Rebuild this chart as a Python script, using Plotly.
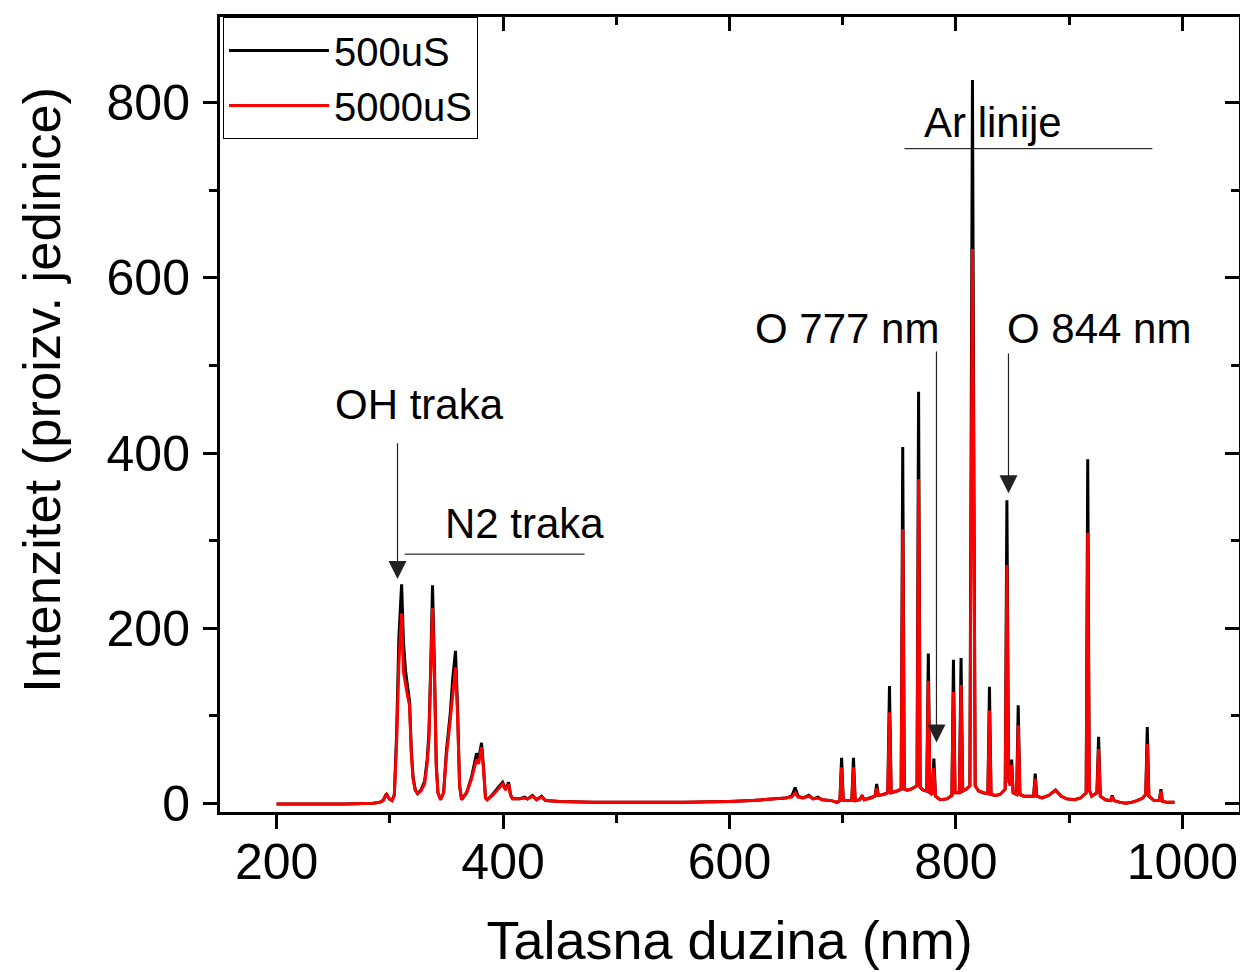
import plotly.graph_objects as go

# Wavelength (nm) and intensities
wavelength = [
    200, 230, 260, 285, 291, 294, 297, 299.5, 302, 304, 306, 308, 310.4, 312, 313.9, 316, 317.4,
    319, 320.5, 322.5, 324.5, 327.5, 330.7, 333, 334.5, 336, 337.7, 339.5, 341, 342.5, 344.8,
    347.5, 350, 352, 353.6, 355.4, 358, 359.8, 361.6, 363.4, 367.8, 372.2, 375.8, 376.6, 378.4,
    381, 382.8, 384.5, 386, 390.7, 395, 399.6, 402.2, 404.9, 406.6, 408.4, 414.6, 419, 421.6,
    426, 429.6, 434, 437.5, 450, 480, 520, 560, 600, 620, 640, 650, 655, 658, 660.5, 665, 670,
    674, 678, 682, 690, 695, 697.5, 699, 700.5, 708, 709.5, 711, 715, 717, 719, 725, 728.5, 730,
    731.5, 736, 739.8, 741.3, 742.8, 748, 751.6, 753, 754.4, 757, 760, 763, 765.6, 767, 768.4,
    771, 774.2, 775.6, 777, 779, 780.5, 782, 786, 792, 796.4, 797.8, 799.2, 803, 804.5, 806, 809,
    812.3, 813.4, 814.6, 815.8, 817, 820, 824, 828.2, 829.6, 831, 835, 839, 843.5, 845, 846.5,
    848, 849.2, 850.5, 853.6, 855, 856.5, 860, 865, 868.6, 870, 871.4, 876, 882, 888, 893, 898,
    905, 910, 915, 916.4, 917.8, 920, 924.5, 926, 927.5, 932, 936.5, 938, 939.5, 945, 950, 955,
    960, 965, 967.6, 969, 970.4, 975, 979.6, 981, 982.4, 987, 993,
]

intensity_500us = [
    -1, -1, -1, 0, 1, 3, 11, 5, 3, 10, 80, 190, 250, 185, 151, 130, 117,
    60, 30, 15, 11, 15, 25, 50, 80, 150, 249, 150, 45, 12, 4,
    12, 60, 85, 106, 140, 174, 110, 20, 4, 12, 30, 50, 57, 50,
    69, 40, 6, 4, 10, 17, 24, 16, 24, 10, 5, 5, 7, 5,
    9, 4, 8, 3, 2, 1, 1, 1, 2, 3, 5, 6, 8, 18, 8, 6, 9,
    5, 7, 4, 3, 1, 3, 52, 3, 3, 52, 3, 4, 9, 4, 6, 8, 22,
    9, 10, 12, 134, 12, 14, 16, 407, 16, 15, 16, 18, 20, 470, 18,
    15, 14, 171, 12, 10, 51, 8, 4, 5, 9, 164, 12, 12, 166, 14, 16,
    20, 486, 826, 394, 20, 14, 12, 11, 133, 10, 9, 10, 16, 346, 30,
    22, 50, 12, 10, 112, 10, 8, 8, 8, 34, 8, 6, 9, 15, 8, 5,
    4, 6, 12, 393, 15, 8, 12, 76, 8, 4, 3, 9, 3, 1, 0, 1,
    3, 6, 10, 87, 8, 3, 3, 16, 2, 1, 1,
]

intensity_5000us = [
    -1, -1, -1, 0, 1, 3, 10, 5, 3, 9, 70, 160, 217, 150, 134, 120, 112,
    55, 28, 15, 11, 14, 22, 46, 72, 140, 223, 140, 42, 12, 4,
    12, 55, 78, 98, 125, 155, 100, 20, 4, 12, 28, 45, 50, 45,
    64, 38, 6, 4, 9, 15, 22, 15, 22, 9, 5, 5, 6, 5,
    8, 4, 7, 3, 2, 1, 1, 1, 2, 3, 5, 6, 7, 12, 7, 6, 8,
    5, 6, 4, 3, 1, 3, 41, 3, 3, 41, 3, 4, 8, 4, 6, 8, 17,
    9, 10, 12, 104, 12, 14, 16, 313, 16, 15, 16, 18, 20, 370, 18,
    15, 14, 140, 12, 10, 40, 8, 4, 5, 9, 127, 12, 12, 135, 14, 16,
    20, 361, 633, 361, 20, 14, 12, 11, 106, 10, 9, 10, 16, 272, 25,
    20, 44, 12, 10, 89, 10, 8, 8, 8, 28, 8, 6, 9, 15, 8, 5,
    4, 6, 12, 309, 15, 8, 12, 62, 8, 4, 3, 8, 3, 1, 0, 1,
    3, 6, 10, 68, 8, 3, 3, 14, 2, 1, 1,
]

series_names = ["500uS", "5000uS"]
series_colors = ["#000000", "#ff0000"]

x_ticks = [200, 400, 600, 800, 1000]
y_ticks = [0, 200, 400, 600, 800]
x_range = [150, 1050]
y_range = [-10, 898]

x_title = "Talasna duzina (nm)"
y_title = "Intenzitet (proizv. jedinice)"

FONT = "Liberation Sans, Arial, sans-serif"

fig = go.Figure()
for name, vals, col in zip(series_names, [intensity_500us, intensity_5000us], series_colors):
    fig.add_trace(go.Scatter(x=wavelength, y=vals, mode="lines", name=name,
                             line=dict(color=col, width=3)))

# invisible helper trace so the mirrored (inward-tick) axes are drawn
fig.add_trace(go.Scatter(x=[], y=[], xaxis="x2", yaxis="y2", showlegend=False,
                         hoverinfo="skip"))

axis_common = dict(showgrid=False, zeroline=False, color="black")

# page body has an 8px margin, so the figure is 8px smaller than the window
fig.update_layout(
    width=1240, height=964,
    margin=dict(l=212, r=8, t=6, b=160),
    plot_bgcolor="white", paper_bgcolor="white",
    font=dict(family=FONT, color="black"),
    xaxis=dict(range=x_range, tickvals=x_ticks, ticks="outside", ticklen=14, tickwidth=2.5,
               tickcolor="black", showline=True, linewidth=3, linecolor="black", mirror=True,
               tickfont=dict(size=50, family=FONT), ticklabelstandoff=-10,
               minor=dict(dtick=100, tick0=0, ticks="outside", ticklen=8, tickwidth=2.5, tickcolor="black"),
               title=dict(text=x_title, font=dict(size=54, family=FONT), standoff=33),
               **axis_common),
    yaxis=dict(range=y_range, tickvals=y_ticks, ticks="outside", ticklen=14, tickwidth=2.5,
               tickcolor="black", showline=True, linewidth=3, linecolor="black", mirror=True,
               tickfont=dict(size=50, family=FONT), ticklabelstandoff=3,
               minor=dict(dtick=100, tick0=0, ticks="outside", ticklen=8, tickwidth=2.5, tickcolor="black"),
               **axis_common),
    xaxis2=dict(range=x_range, overlaying="x", side="top", tickvals=x_ticks, ticks="inside",
                ticklen=14, tickwidth=2.5, tickcolor="black", showticklabels=False, showline=False,
                minor=dict(dtick=100, tick0=0, ticks="inside", ticklen=8, tickwidth=2.5, tickcolor="black"),
                **axis_common),
    yaxis2=dict(range=y_range, overlaying="y", side="right", tickvals=y_ticks, ticks="inside",
                ticklen=14, tickwidth=2.5, tickcolor="black", showticklabels=False, showline=False,
                minor=dict(dtick=100, tick0=0, ticks="inside", ticklen=8, tickwidth=2.5, tickcolor="black"),
                **axis_common),
    legend=dict(x=0.003, y=1.0, xanchor="left", yanchor="top", bgcolor="white",
                bordercolor="black", borderwidth=1, font=dict(size=40, family=FONT),
                itemwidth=100, tracegroupgap=0),
    showlegend=True,
)

# Y-axis title (placed slightly above the axis centre, as in the reference)
fig.add_annotation(text=y_title, xref="paper", yref="paper", x=0, y=0.531,
                   xanchor="center", yanchor="middle", xshift=-178, textangle=-90,
                   showarrow=False, font=dict(size=52.5, family=FONT, color="black"))

# Text labels
labels = [
    ("OH traka", 326.3, 455),
    ("N2 traka", 419, 320),
    ("O 777 nm", 704.2, 541.7),
    ("O 844 nm", 926.7, 541.7),
    ("Ar linije", 833, 777),
]
for txt, lx, ly in labels:
    fig.add_annotation(x=lx, y=ly, xref="x", yref="y", text=txt, showarrow=False,
                       font=dict(size=42, family=FONT, color="black"))

# Arrows: (x, tip y, tail y)
arrows = [
    (306.8, 256, 413),
    (782.8, 69.4, 517.8),
    (846.4, 354, 515.5),
]
for axx, tipy, taily in arrows:
    fig.add_annotation(x=axx, y=tipy, ax=axx, ay=taily, xref="x", yref="y",
                       axref="x", ayref="y", text="", showarrow=True,
                       arrowhead=2, arrowsize=3, arrowwidth=1.2, arrowcolor="#222222")

# Band bracket lines
fig.add_shape(type="line", x0=313, x1=472, y0=284.5, y1=284.5, xref="x", yref="y",
              line=dict(color="black", width=1))
fig.add_shape(type="line", x0=754.5, x1=973.5, y0=747.6, y1=747.6, xref="x", yref="y",
              line=dict(color="black", width=1))

fig.write_html("out.html")
